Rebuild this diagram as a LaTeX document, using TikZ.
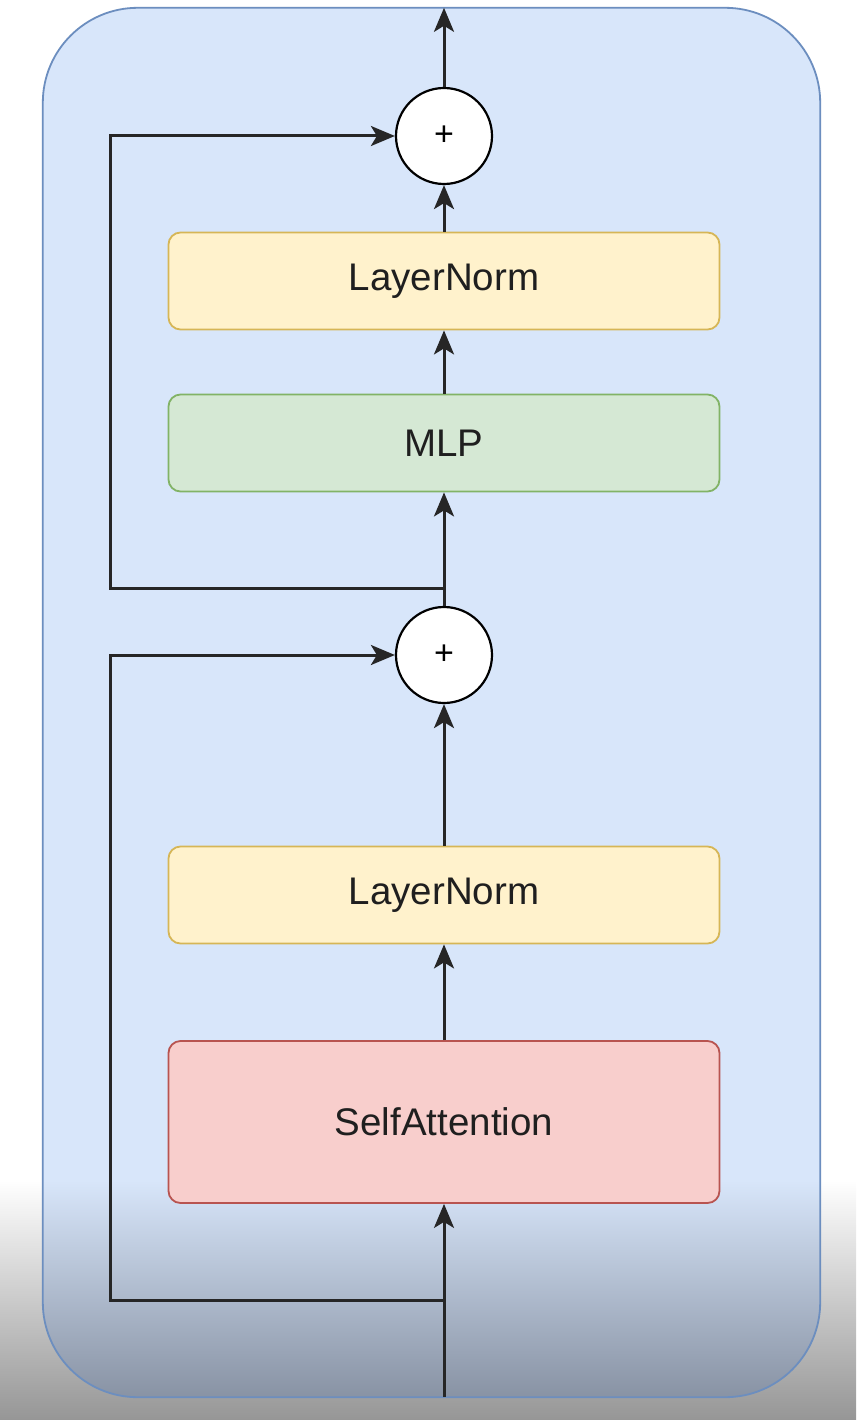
\documentclass[tikz,border=0pt]{standalone}
\usepackage{fontspec}
\setmainfont{Liberation Sans}
\usetikzlibrary{arrows.meta, positioning}
\definecolor{bgblue}{HTML}{D8E6FA}
\definecolor{bgbluedark}{RGB}{128,138,155}
\definecolor{bgblueline}{HTML}{6C8EBF}
\definecolor{shadowgrey}{RGB}{150,150,150}
\definecolor{normyellow}{HTML}{FFF2CC}
\definecolor{normyellowline}{HTML}{D6B656}
\definecolor{mlpgreen}{HTML}{D5E8D4}
\definecolor{mlpgreenline}{HTML}{82B366}
\definecolor{attnred}{HTML}{F8CECC}
\definecolor{attnredline}{HTML}{B85450}

\begin{document}
\begin{tikzpicture}[
        x=1pt, y=-1pt,
        block/.style={draw, rounded corners=12pt, line width=1.8pt, minimum width=551pt, minimum height=97pt, align=center, font=\fontsize{38.5}{42}\selectfont, text=black!88},
        sum/.style={draw, circle, fill=white, line width=2.2pt, minimum size=96pt, inner sep=0pt, font=\fontsize{34}{34}\selectfont},
        arrow/.style={-{Stealth[length=24pt, width=20pt, inset=6pt]}, line width=3pt, draw=black!85}
    ]
        \useasboundingbox (0,0) rectangle (856,1420);
        \fill[white] (0,0) rectangle (856,1420);
        % Bottom shadow
        \shade[top color=white, bottom color=shadowgrey] (0,1180) rectangle (856,1420);

        % Encoder block
        \node[fill=bgblue, rounded corners=95pt, minimum width=777pt, minimum height=1389pt] (encoder) at (431.5, 702.5) {};
        \begin{scope}
            \clip[rounded corners=95pt] (encoder.south west) rectangle (encoder.north east);
            \shade[top color=bgblue, bottom color=bgbluedark] (0,1180) rectangle (856,1420);
        \end{scope}
        \draw[bgblueline, line width=1.8pt, rounded corners=95pt] (encoder.south west) rectangle (encoder.north east);

        % Layers
        \node[block, fill=attnred, draw=attnredline, minimum height=162pt] (attn) at (444, 1122) {SelfAttention};
        \node[block, fill=normyellow, draw=normyellowline] (norm1) at (444, 895) {LayerNorm};
        \node[sum] (add1) at (444, 655) {+};
        \node[block, fill=mlpgreen, draw=mlpgreenline] (mlp) at (444, 443) {MLP};
        \node[block, fill=normyellow, draw=normyellowline] (norm2) at (444, 281) {LayerNorm};
        \node[sum] (add2) at (444, 136) {+};

        % Residual corners
        \coordinate (split1) at (444, 1300);
        \coordinate (skip1) at (110, 1300);
        \coordinate (split2) at (444, 588);
        \coordinate (skip2) at (110, 588);

        % Arrows
        \draw[arrow] (attn.south |- encoder.south) -- (attn.south);
        \draw[arrow] (attn) -- (norm1);
        \draw[arrow] (norm1) -- (add1);
        \draw[arrow] (add1) -- (mlp);
        \draw[arrow] (mlp) -- (norm2);
        \draw[arrow] (norm2) -- (add2);
        \draw[arrow] (add2) -- (add2.north |- encoder.north);

        \draw[arrow] (split1) -- (skip1) |- (add1.west);
        \draw[arrow] (split2) -- (skip2) |- (add2.west);
    \end{tikzpicture}
\end{document}
